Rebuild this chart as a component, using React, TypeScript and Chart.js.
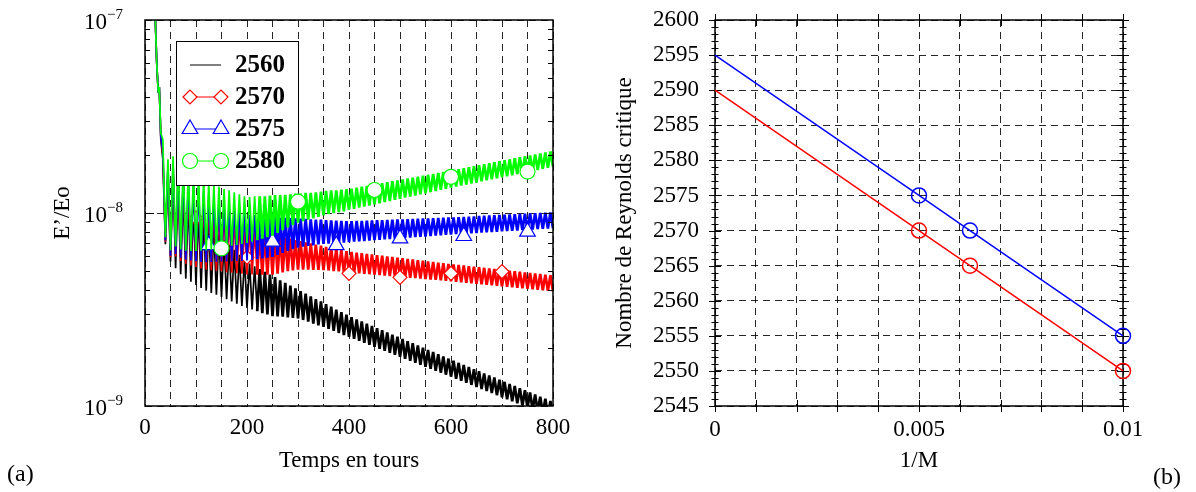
import React, { useEffect, useRef } from 'react';
import { Chart, registerables } from 'chart.js';

Chart.register(...registerables);

const SERIF = '"Liberation Serif", "Times New Roman", serif';

// ---------- Panel (a) data: E'/Eo versus time (values in units of 1e-9) ----------
const UNIT = 1e-9;
const seriesLabels = ['2560', '2570', '2575', '2580'];
const seriesColors = ['#000000', '#ff0000', '#0000ff', '#00ff00'];

const startTimes = [20, 23, 26, 28, 31];
const sampleStart = 35;
const sampleStep = 5;

const e2560 = [
  105, 60, 42, 45, 24,
  19, 6.9, 16, 5.6,
  15.5, 5.18, 14.1, 4.82, 12.7, 4.57, 11.8, 4.40, 10.9, 4.24,
  10.1, 4.09, 9.42, 3.96, 8.77, 3.85, 8.22, 3.77, 7.73, 3.67,
  7.26, 3.57, 6.84, 3.48, 6.44, 3.39, 6.08, 3.30, 5.74, 3.22,
  5.47, 3.16, 5.30, 3.10, 5.12, 3.03, 4.95, 2.98, 4.80, 2.92,
  4.65, 2.91, 4.48, 2.90, 4.34, 2.88, 4.21, 2.86, 4.07, 2.84,
  3.94, 2.79, 3.82, 2.74, 3.70, 2.67, 3.58, 2.62, 3.48, 2.57,
  3.37, 2.51, 3.27, 2.45, 3.16, 2.39, 3.06, 2.33, 2.97, 2.28,
  2.886, 2.227, 2.813, 2.175, 2.741, 2.124, 2.670, 2.074, 2.601, 2.025,
  2.534, 1.978, 2.469, 1.931, 2.406, 1.886, 2.344, 1.842, 2.284, 1.799,
  2.226, 1.757, 2.168, 1.716, 2.113, 1.675, 2.059, 1.636, 2.006, 1.597,
  1.954, 1.560, 1.904, 1.523, 1.855, 1.488, 1.807, 1.453, 1.761, 1.419,
  1.717, 1.385, 1.674, 1.351, 1.633, 1.318, 1.592, 1.286, 1.552, 1.255,
  1.514, 1.225, 1.476, 1.195, 1.439, 1.166, 1.404, 1.138, 1.368, 1.110,
  1.334, 1.084, 1.301, 1.057, 1.269, 1.032, 1.237, 1.007, 1.206, 0.982,
  1.176, 0.958, 1.147, 0.935, 1.118, 0.913, 1.091, 0.891, 1.063, 0.869,
];

const e2570 = [
  105, 60, 42, 45, 25,
  20, 7.1, 17, 5.9,
  17.7, 5.96, 16.4, 5.65, 15.0, 5.46, 14.2, 5.35, 13.4, 5.25,
  12.7, 5.16, 12.0, 5.09, 11.4, 5.05, 10.9, 5.02, 10.4, 4.99,
  9.95, 4.94, 9.55, 4.91, 9.18, 4.88, 8.83, 4.84, 8.49, 4.81,
  8.24, 4.80, 8.13, 4.80, 8.00, 4.79, 7.89, 4.79, 7.78, 4.79,
  7.67, 4.85, 7.53, 4.92, 7.43, 4.99, 7.35, 5.04, 7.24, 5.09,
  7.14, 5.09, 7.05, 5.09, 6.95, 5.07, 6.85, 5.07, 6.78, 5.06,
  6.68, 5.04, 6.61, 5.00, 6.52, 4.98, 6.43, 4.94, 6.35, 4.92,
  6.285, 4.894, 6.238, 4.868, 6.191, 4.843, 6.145, 4.818, 6.099, 4.792,
  6.053, 4.768, 6.008, 4.743, 5.963, 4.718, 5.918, 4.694, 5.874, 4.669,
  5.830, 4.645, 5.786, 4.621, 5.743, 4.596, 5.700, 4.572, 5.657, 4.550,
  5.615, 4.526, 5.573, 4.502, 5.531, 4.479, 5.490, 4.456, 5.449, 4.432,
  5.413, 4.406, 5.377, 4.380, 5.341, 4.352, 5.304, 4.326, 5.269, 4.300,
  5.234, 4.274, 5.199, 4.249, 5.164, 4.222, 5.129, 4.197, 5.095, 4.172,
  5.061, 4.147, 5.027, 4.122, 4.993, 4.097, 4.959, 4.072, 4.926, 4.048,
  4.893, 4.024, 4.860, 4.000, 4.828, 3.975, 4.794, 3.951, 4.762, 3.928,
];

const e2575 = [
  105, 60, 42, 45, 25,
  21, 7.2, 17.5, 6.0,
  18.1, 6.14, 16.9, 5.87, 15.7, 5.73, 15.0, 5.68, 14.3, 5.62,
  13.6, 5.58, 13.0, 5.56, 12.5, 5.57, 12.0, 5.60, 11.6, 5.61,
  11.2, 5.61, 10.9, 5.62, 10.6, 5.64, 10.3, 5.65, 9.95, 5.68,
  9.77, 5.71, 9.72, 5.77, 9.66, 5.81, 9.64, 5.87, 9.59, 5.93,
  9.55, 6.07, 9.46, 6.22, 9.44, 6.37, 9.42, 6.49, 9.38, 6.62,
  9.35, 6.70, 9.31, 6.76, 9.27, 6.79, 9.23, 6.87, 9.23, 6.92,
  9.18, 6.95, 9.16, 6.97, 9.14, 7.01, 9.10, 7.03, 9.08, 7.06,
  9.07, 7.10, 9.09, 7.13, 9.11, 7.16, 9.13, 7.19, 9.15, 7.23,
  9.17, 7.26, 9.19, 7.30, 9.21, 7.33, 9.23, 7.36, 9.25, 7.40,
  9.27, 7.43, 9.30, 7.46, 9.32, 7.50, 9.34, 7.53, 9.36, 7.56,
  9.38, 7.60, 9.40, 7.63, 9.42, 7.67, 9.45, 7.70, 9.47, 7.74,
  9.49, 7.77, 9.52, 7.80, 9.55, 7.83, 9.58, 7.86, 9.61, 7.88,
  9.64, 7.91, 9.67, 7.94, 9.70, 7.97, 9.73, 8.00, 9.76, 8.03,
  9.79, 8.06, 9.82, 8.09, 9.85, 8.12, 9.88, 8.15, 9.91, 8.19,
  9.94, 8.22, 9.97, 8.25, 10.00, 8.28, 10.03, 8.31, 10.06, 8.34,
];

const e2580 = [
  105, 60, 42, 45, 26,
  24, 7.5, 19, 6.4,
  19.7, 6.70, 18.6, 6.47, 17.4, 6.37, 16.7, 6.35, 16.0, 6.35,
  15.5, 6.37, 14.9, 6.40, 14.4, 6.46, 14.0, 6.55, 13.7, 6.62,
  13.3, 6.68, 13.1, 6.76, 12.8, 6.84, 12.5, 6.92, 12.2, 7.00,
  12.1, 7.11, 12.2, 7.24, 12.2, 7.36, 12.2, 7.50, 12.3, 7.64,
  12.4, 7.89, 12.4, 8.15, 12.4, 8.41, 12.5, 8.65, 12.6, 8.91,
  12.6, 9.08, 12.7, 9.25, 12.7, 9.38, 12.8, 9.55, 12.9, 9.72,
  13.0, 9.86, 13.1, 9.98, 13.1, 10.1, 13.2, 10.2, 13.3, 10.4,
  13.38, 10.51, 13.53, 10.66, 13.68, 10.80, 13.83, 10.94, 13.98, 11.09,
  14.13, 11.23, 14.29, 11.38, 14.45, 11.54, 14.60, 11.69, 14.76, 11.85,
  14.93, 12.01, 15.09, 12.17, 15.26, 12.33, 15.43, 12.49, 15.60, 12.66,
  15.77, 12.83, 15.94, 13.00, 16.12, 13.17, 16.30, 13.35, 16.48, 13.53,
  16.67, 13.70, 16.87, 13.87, 17.07, 14.04, 17.27, 14.22, 17.47, 14.40,
  17.68, 14.58, 17.89, 14.76, 18.10, 14.94, 18.32, 15.13, 18.53, 15.32,
  18.75, 15.51, 18.97, 15.70, 19.20, 15.90, 19.43, 16.10, 19.66, 16.30,
  19.89, 16.50, 20.12, 16.71, 20.36, 16.92, 20.60, 17.13, 20.84, 17.35,
];

// marker positions (time, value in 1e-9)
const mark2570T = [100, 200, 400, 500, 600, 700];
const mark2570V = [9.4, 5.9, 4.87, 4.64, 4.87, 4.97];
const mark2575T = [125, 250, 375, 500, 625, 750];
const mark2575V = [6.82, 7.1, 6.82, 7.39, 7.6, 8.0];
const mark2580T = [150, 300, 450, 600, 750];
const mark2580V = [6.56, 11.44, 13.16, 15.4, 16.4];

const timeTickLabels = [0, 200, 400, 600, 800];
const logTicks = [1e-9, 1e-8, 1e-7];
const logTickBase = '10';
const logTickExponents = ['\u22129', '\u22128', '\u22127'];
const logMinorMultipliers = [2, 3, 4, 5, 6, 7, 8, 9];

// ---------- Panel (b) data: critical Reynolds number versus 1/M ----------
const invM = [0, 0.005, 0.00625, 0.01];
const reCritRed = [2590, 2570, 2565, 2550];
const reCritBlue = [2595, 2575, 2570, 2555];
const invMTickValues = [0, 0.005, 0.01];
const invMTickLabels = ['0', '0.005', '0.01'];

// ---------- helpers ----------
const sampleTimes = e2560.slice(startTimes.length).map((_, i) => sampleStart + sampleStep * i);
const times = [...startTimes, ...sampleTimes];
const toPoints = (vals: number[]) => vals.map((v, i) => ({ x: times[i], y: v * UNIT }));
const toMarks = (ts: number[], vs: number[]) => ts.map((t, i) => ({ x: t, y: vs[i] * UNIT }));

const GRID = 'rgba(0,0,0,0.85)';
const DASH = [7, 5];
const tickFont = { family: SERIF, size: 23 };
const titleFont = { family: SERIF, size: 23 };

const noPad = (s: any) => {
  s.paddingTop = 0;
  s.paddingBottom = 0;
  s.paddingLeft = 0;
  s.paddingRight = 0;
};

function drawMarker(ctx: CanvasRenderingContext2D, style: string, x: number, y: number, r: number) {
  ctx.beginPath();
  if (style === 'rectRot') {
    ctx.moveTo(x - r, y); ctx.lineTo(x, y - r); ctx.lineTo(x + r, y); ctx.lineTo(x, y + r);
    ctx.closePath();
  } else if (style === 'triangle') {
    const w = r * Math.sin((2 * Math.PI) / 3);
    ctx.moveTo(x, y - r); ctx.lineTo(x + w, y + r / 2); ctx.lineTo(x - w, y + r / 2);
    ctx.closePath();
  } else {
    ctx.arc(x, y, r, 0, Math.PI * 2);
  }
  ctx.fillStyle = '#fff';
  ctx.fill();
  ctx.stroke();
}

const markerStyles = ['', 'rectRot', 'triangle', 'circle'];
const markerRadii = [0, 7, 9, 7.5];

const logFramePlugin = {
  id: 'logFrame',
  afterDatasetsDraw(chart: any) {
    const { ctx, chartArea: a, scales } = chart;
    const y = scales.y;
    ctx.save();
    ctx.strokeStyle = '#000';
    ctx.lineWidth = 1;
    ctx.beginPath();
    for (const dec of [1e-9, 1e-8]) {
      for (const m of logMinorMultipliers) {
        const py = Math.round(y.getPixelForValue(m * dec)) + 0.5;
        ctx.moveTo(a.left, py); ctx.lineTo(a.left + 5, py);
        ctx.moveTo(a.right - 5, py); ctx.lineTo(a.right, py);
      }
    }
    const pm = Math.round(y.getPixelForValue(1e-8)) + 0.5;
    ctx.moveTo(a.left, pm); ctx.lineTo(a.left + 9, pm);
    ctx.moveTo(a.right - 9, pm); ctx.lineTo(a.right, pm);
    ctx.stroke();
    ctx.lineWidth = 1.5;
    ctx.strokeRect(a.left, a.top, a.right - a.left, a.bottom - a.top);

    // y tick labels: 10 with a raised exponent
    ctx.fillStyle = '#000';
    logTicks.forEach((v, i) => {
      const py = y.getPixelForValue(v);
      const xr = a.left - 38;
      ctx.textBaseline = 'alphabetic';
      ctx.font = `23px ${SERIF}`;
      ctx.textAlign = 'right';
      ctx.fillText(logTickBase, xr, py + 9);
      ctx.font = `15px ${SERIF}`;
      ctx.textAlign = 'left';
      ctx.fillText(logTickExponents[i], xr, py - 1);
    });

    // legend box
    const bx = a.left + 31;
    const by = a.top + 21;
    const bw = 122;
    const bh = 144;
    ctx.fillStyle = '#fff';
    ctx.fillRect(bx, by, bw, bh);
    ctx.strokeStyle = '#000';
    ctx.lineWidth = 1;
    ctx.strokeRect(bx + 0.5, by + 0.5, bw, bh);
    seriesLabels.forEach((lab, i) => {
      const ry = by + 24 + i * 32;
      ctx.strokeStyle = seriesColors[i];
      ctx.lineWidth = 1;
      ctx.beginPath();
      ctx.moveTo(bx + 14, ry); ctx.lineTo(bx + 45, ry);
      ctx.stroke();
      if (i > 0) {
        ctx.lineWidth = 1.2;
        drawMarker(ctx, markerStyles[i], bx + 14, ry, markerRadii[i]);
        drawMarker(ctx, markerStyles[i], bx + 45, ry, markerRadii[i]);
      }
      ctx.fillStyle = '#000';
      ctx.font = `bold 25px ${SERIF}`;
      ctx.textAlign = 'left';
      ctx.textBaseline = 'middle';
      ctx.fillText(lab, bx + 59, ry + 1);
    });
    ctx.restore();
  },
};

const reFramePlugin = {
  id: 'reFrame',
  beforeDatasetsDraw(chart: any) {
    const { ctx, chartArea: a, scales } = chart;
    const { x, y } = scales;
    ctx.save();
    ctx.strokeStyle = '#000';
    ctx.lineWidth = 1;
    ctx.beginPath();
    for (let v = y.min; v <= y.max + 1e-9; v += 1) {
      const py = Math.round(y.getPixelForValue(v)) + 0.5;
      const len = Math.round(v) % 5 === 0 ? 6 : 3.5;
      ctx.moveTo(a.left - len, py); ctx.lineTo(a.left + len, py);
      ctx.moveTo(a.right - len, py); ctx.lineTo(a.right + len, py);
    }
    x.ticks.forEach((t: any) => {
      const px = Math.round(x.getPixelForValue(t.value)) + 0.5;
      ctx.moveTo(px, a.top - 6); ctx.lineTo(px, a.top + 6);
      ctx.moveTo(px, a.bottom - 6); ctx.lineTo(px, a.bottom + 6);
    });
    ctx.stroke();
    ctx.lineWidth = 1.5;
    ctx.strokeRect(a.left, a.top, a.right - a.left, a.bottom - a.top);
    ctx.restore();
  },
};

function lineSet(vals: number[], color: string) {
  return {
    data: toPoints(vals),
    showLine: true,
    borderColor: color,
    borderWidth: 2.7,
    borderJoinStyle: 'bevel',
    segment: {
      borderWidth: (c: any) => (c.p0.parsed.x < 220 ? 1.7 : 2.7),
    },
    pointRadius: 0,
    tension: 0,
  };
}

function markSet(ts: number[], vs: number[], color: string, style: string, r: number) {
  return {
    data: toMarks(ts, vs),
    showLine: false,
    pointStyle: style,
    pointRadius: r,
    pointBorderColor: color,
    pointBackgroundColor: '#ffffff',
    pointBorderWidth: 1.2,
  };
}

export default function App() {
  const leftRef = useRef<HTMLCanvasElement>(null);
  const rightRef = useRef<HTMLCanvasElement>(null);

  useEffect(() => {
    const left = new Chart(leftRef.current as HTMLCanvasElement, {
      type: 'scatter',
      data: {
        datasets: [
          markSet(mark2580T, mark2580V, seriesColors[3], 'circle', 7.5),
          lineSet(e2580, seriesColors[3]),
          markSet(mark2575T, mark2575V, seriesColors[2], 'triangle', 9),
          lineSet(e2575, seriesColors[2]),
          markSet(mark2570T, mark2570V, seriesColors[1], 'rectRot', 7),
          lineSet(e2570, seriesColors[1]),
          lineSet(e2560, seriesColors[0]),
        ] as any,
      },
      options: {
        animation: false,
        responsive: false,
        maintainAspectRatio: false,
        events: [],
        layout: { padding: { left: 49, top: 20, right: 37, bottom: 17 } },
        plugins: { legend: { display: false }, tooltip: { enabled: false } },
        scales: {
          x: {
            type: 'linear',
            min: 0,
            max: 800,
            afterFit: (s: any) => { s.height = 69; noPad(s); },
            ticks: {
              stepSize: 50,
              autoSkip: false,
              maxRotation: 0,
              padding: 8,
              color: '#000',
              font: tickFont,
              callback: (v: any) => (timeTickLabels.includes(Number(v)) ? String(v) : ''),
            },
            grid: { color: GRID, lineWidth: 1, drawTicks: false },
            border: { display: false, dash: DASH },
            title: { display: true, text: 'Temps en tours', color: '#000', font: titleFont, padding: 0 },
          },
          y: {
            type: 'logarithmic',
            min: 1e-9,
            max: 1e-7,
            afterBuildTicks: (s: any) => { s.ticks = logTicks.map((v) => ({ value: v })); },
            afterFit: (s: any) => { s.width = 96; noPad(s); },
            ticks: { display: false },
            grid: { color: GRID, lineWidth: 1, drawTicks: false },
            border: { display: false, dash: DASH },
            title: { display: true, text: 'E\u2019/Eo', color: '#000', font: titleFont, padding: 0 },
          },
        },
      } as any,
      plugins: [logFramePlugin],
    });

    const circleRadius = (c: any) => (c.dataIndex === 0 ? 0 : 7.5);
    const right = new Chart(rightRef.current as HTMLCanvasElement, {
      type: 'scatter',
      data: {
        datasets: [
          {
            data: invM.map((x, i) => ({ x, y: reCritBlue[i] })),
            showLine: true,
            borderColor: '#0000ff',
            borderWidth: 1.5,
            pointStyle: 'circle',
            pointRadius: circleRadius,
            pointBorderColor: '#0000ff',
            pointBackgroundColor: 'rgba(0,0,0,0)',
            pointBorderWidth: 1.5,
            clip: false,
          },
          {
            data: invM.map((x, i) => ({ x, y: reCritRed[i] })),
            showLine: true,
            borderColor: '#ff0000',
            borderWidth: 1.5,
            pointStyle: 'circle',
            pointRadius: circleRadius,
            pointBorderColor: '#ff0000',
            pointBackgroundColor: 'rgba(0,0,0,0)',
            pointBorderWidth: 1.5,
            clip: false,
          },
        ] as any,
      },
      options: {
        animation: false,
        responsive: false,
        maintainAspectRatio: false,
        events: [],
        layout: { padding: { left: 21, top: 20, right: 73, bottom: 17 } },
        plugins: { legend: { display: false }, tooltip: { enabled: false } },
        scales: {
          x: {
            type: 'linear',
            min: 0,
            max: 0.01,
            afterFit: (s: any) => { s.height = 69; noPad(s); },
            ticks: {
              stepSize: 0.001,
              autoSkip: false,
              maxRotation: 0,
              padding: 10,
              color: '#000',
              font: tickFont,
              callback: (v: any) => {
                const i = invMTickValues.findIndex((t) => Math.abs(t - Number(v)) < 1e-9);
                return i >= 0 ? invMTickLabels[i] : '';
              },
            },
            grid: { color: GRID, lineWidth: 1, drawTicks: false },
            border: { display: false, dash: DASH },
            title: { display: true, text: '1/M', color: '#000', font: titleFont, padding: 0 },
          },
          y: {
            type: 'linear',
            min: 2545,
            max: 2600,
            afterFit: (s: any) => { s.width = 104; noPad(s); },
            ticks: {
              stepSize: 5,
              autoSkip: false,
              padding: 16,
              color: '#000',
              font: tickFont,
              callback: (v: any) => String(v),
            },
            grid: { color: GRID, lineWidth: 1, drawTicks: false },
            border: { display: false, dash: DASH },
            title: { display: true, text: 'Nombre de Reynolds critique', color: '#000', font: titleFont, padding: 0 },
          },
        },
      } as any,
      plugins: [reFramePlugin],
    });

    return () => {
      left.destroy();
      right.destroy();
    };
  }, []);

  return (
    <div style={{ position: 'absolute', left: 0, top: 0, width: 1196, height: 492, background: '#fff', overflow: 'hidden' }}>
      <canvas ref={leftRef} width={590} height={492} style={{ position: 'absolute', left: 0, top: 0, width: 590, height: 492 }} />
      <canvas ref={rightRef} width={606} height={492} style={{ position: 'absolute', left: 590, top: 0, width: 606, height: 492 }} />
      <div style={{ position: 'absolute', left: 7, top: 459, fontFamily: SERIF, fontSize: 24, lineHeight: '28px', color: '#000' }}>(a)</div>
      <div style={{ position: 'absolute', left: 1153, top: 462, fontFamily: SERIF, fontSize: 24, lineHeight: '28px', color: '#000' }}>(b)</div>
    </div>
  );
}
